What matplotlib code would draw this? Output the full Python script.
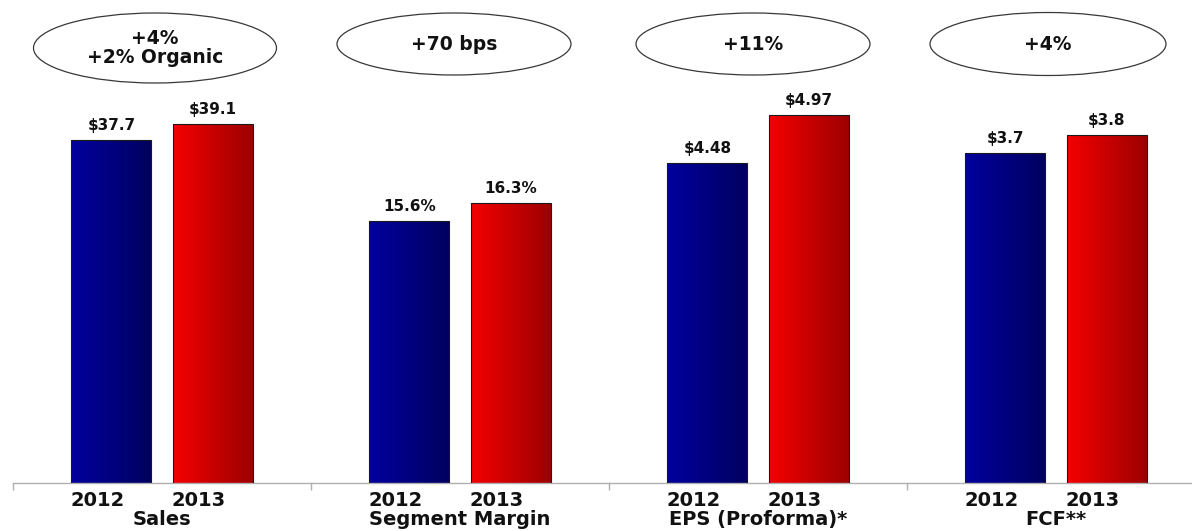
import matplotlib
matplotlib.use("Agg")
import matplotlib.pyplot as plt
import numpy as np
from matplotlib.colors import LinearSegmentedColormap
from matplotlib.patches import Ellipse

categories = ["Sales", "Segment Margin", "EPS (Proforma)*", "FCF**"]
years = ["2012", "2013"]
values_2012 = [37.7, 15.6, 4.48, 3.7]
values_2013 = [39.1, 16.3, 4.97, 3.8]
label_fmts = ["${:.1f}", "{:.1f}%", "${:.2f}", "${:.1f}"]
growth = ["+4%\n+2% Organic", "+70 bps", "+11%", "+4%"]

# each group is drawn on its own little axis with its own scale
ylims = [(7.7, 49.96), (5.41, 24.2), (1.21, 6.14), (1.867, 4.55)]

plt.rcParams["font.family"] = ["DejaVu Sans"]
plt.rcParams["font.weight"] = "bold"

W, H = 1192, 531
fig = plt.figure(figsize=(W / 100, H / 100), dpi=100)

base_y = 483
group_w = 298
x_start = 13
offsets = [-0.17, 0.17]
bar_w = 0.268

blue_cmap = LinearSegmentedColormap.from_list("blue", ["#00009e", "#000060"])
red_cmap = LinearSegmentedColormap.from_list("red", ["#f50000", "#9c0000"])
grad = np.linspace(0, 1, 256).reshape(1, -1)

for i, cat in enumerate(categories):
    ax = fig.add_axes([(x_start + i * group_w) / W, (H - base_y) / H,
                       group_w / W, base_y / H])
    ax.patch.set_alpha(0)
    vals = [values_2012[i], values_2013[i]]
    lo, hi = ylims[i]
    bars = ax.bar(offsets, vals, width=bar_w, facecolor="none",
                  edgecolor="#1a1a1a", linewidth=0.8, zorder=3)
    for bar, cmap in zip(bars, [blue_cmap, red_cmap]):
        x = bar.get_x()
        im = ax.imshow(grad, extent=[x, x + bar.get_width(), lo, bar.get_height()],
                       aspect="auto", cmap=cmap, zorder=2)
        im.set_clip_path(bar)
        ax.annotate(label_fmts[i].format(bar.get_height()),
                    (x + bar.get_width() / 2, bar.get_height()),
                    xytext=(0, 5), textcoords="offset points",
                    ha="center", va="bottom", fontsize=11, fontweight="bold",
                    color="#111111")
    ax.set_xlim(-0.5, 0.5)
    ax.set_ylim(lo, hi)
    for s in ["top", "left", "right"]:
        ax.spines[s].set_visible(False)
    ax.spines["bottom"].set_color("#b0b0b0")
    ax.spines["bottom"].set_linewidth(1)
    ax.set_yticks([])
    ax.set_xticks([-0.5])
    ax.set_xticklabels([])
    ax.tick_params(axis="x", length=5, color="#b0b0b0", width=1)

    for off, yr in zip(offsets, years):
        ax.annotate(yr, (off - 0.047, 0), xycoords=("data", "axes fraction"),
                    xytext=(0, -12.6), textcoords="offset points",
                    ha="center", va="center", fontsize=14, fontweight="bold",
                    color="#111111")
    ax.annotate(cat, (0, 0), xycoords=("data", "axes fraction"),
                xytext=(0, -26.5), textcoords="offset points",
                ha="center", va="center", fontsize=14, fontweight="bold",
                color="#111111")

# growth callouts in ellipses, placed in pixel space
top = fig.add_axes([0, 0, 1, 1])
top.set_xlim(0, W)
top.set_ylim(H, 0)
top.axis("off")
top.patch.set_alpha(0)
ellipses = [(155, 48, 243, 70), (454, 44, 234, 62), (753, 44, 234, 62), (1048, 44, 236, 63)]
for (cx, cy, w, h), txt in zip(ellipses, growth):
    top.add_patch(Ellipse((cx, cy), w, h, fill=False, edgecolor="#383838", linewidth=0.9))
    top.text(cx, cy, txt, ha="center", va="center", fontsize=13.5,
             fontweight="bold", linespacing=1.0, color="#111111")

fig.savefig("out.png", dpi=100)
